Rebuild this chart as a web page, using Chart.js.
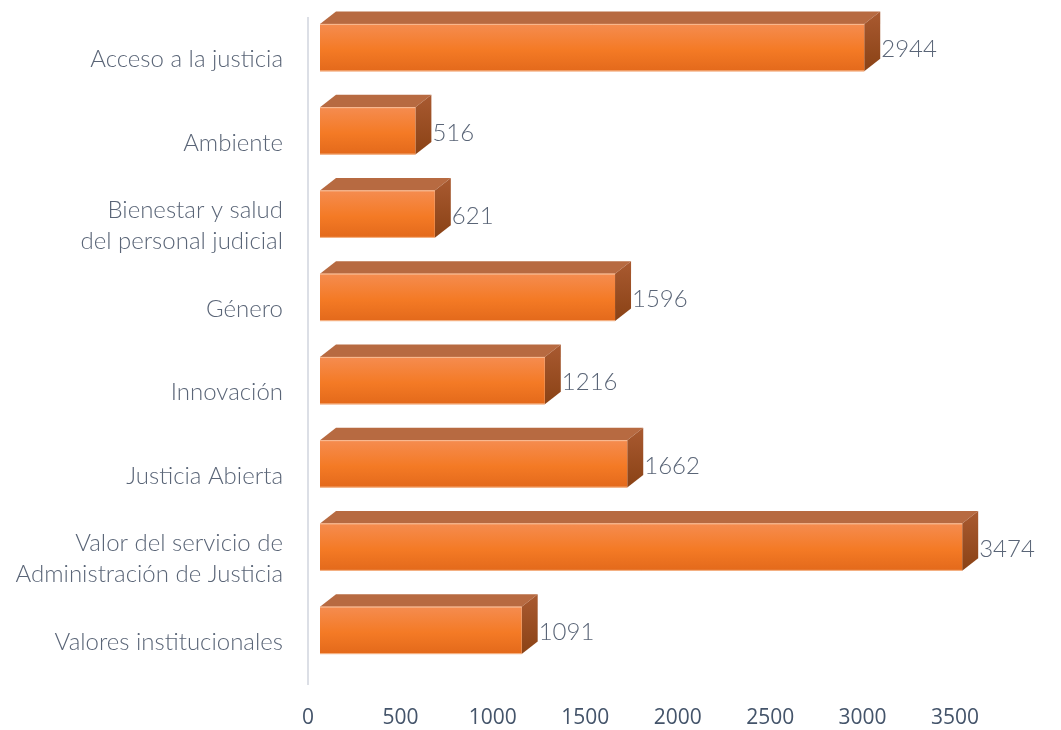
<!DOCTYPE html>
<html>
<head>
<meta charset="utf-8">
<script src="https://cdn.jsdelivr.net/npm/chart.js@4"></script>
<style>
  html, body { margin: 0; padding: 0; background: #fff; }
  #wrap { width: 1061px; height: 730px; }
</style>
</head>
<body>
<div id="wrap"><canvas id="graf"></canvas></div>
<script>
// datos del gráfico
const categorias = [
  "Acceso a la justicia",
  "Ambiente",
  ["Bienestar y salud", "del personal judicial"],
  "Género",
  "Innovación",
  "Justicia Abierta",
  ["Valor del servicio de", "Administración de Justicia"],
  "Valores institucionales"
];
const valores = [2944, 516, 621, 1596, 1216, 1662, 3474, 1091];
const ejeMin = 0;
const ejeMax = 3500;
const ejePaso = 500;

const fuente = "Lato, 'Open Sans', sans-serif";

// dibuja las barras con efecto 3D (cara frontal, superior y lateral)
const barras3d = {
  id: "barras3d",
  afterDatasetsDraw(chart) {
    const ctx = chart.ctx;
    const meta = chart.getDatasetMeta(0);
    const dx = 16, dy = 12.5;        // profundidad
    const sx = 12, sy = -12;         // desplazamiento de la cara frontal
    ctx.save();
    meta.data.forEach((bar, i) => {
      const p = bar.getProps(["x", "y", "base", "height"], true);
      const l = p.base + sx, r = p.x + sx;
      const t = p.y - p.height / 2 + sy, b = p.y + p.height / 2 + sy;

      // cara superior
      ctx.beginPath();
      ctx.moveTo(l, t);
      ctx.lineTo(l + dx, t - dy);
      ctx.lineTo(r + dx, t - dy);
      ctx.lineTo(r, t);
      ctx.closePath();
      ctx.fillStyle = "#b76a41";
      ctx.fill();

      // cara lateral
      const gl = ctx.createLinearGradient(0, t - dy, 0, b);
      gl.addColorStop(0, "#a95a31");
      gl.addColorStop(1, "#8a4215");
      ctx.beginPath();
      ctx.moveTo(r, t);
      ctx.lineTo(r + dx, t - dy);
      ctx.lineTo(r + dx, b - dy);
      ctx.lineTo(r, b);
      ctx.closePath();
      ctx.fillStyle = gl;
      ctx.fill();

      // cara frontal
      const gf = ctx.createLinearGradient(0, t, 0, b);
      gf.addColorStop(0, "#f58c50");
      gf.addColorStop(0.55, "#f47a25");
      gf.addColorStop(1, "#e3691b");
      ctx.fillStyle = gf;
      ctx.fillRect(l, t, r - l, b - t);
      ctx.strokeStyle = "rgba(250,200,165,0.8)";
      ctx.lineWidth = 1;
      ctx.beginPath();
      ctx.moveTo(l, t + 0.5); ctx.lineTo(r, t + 0.5);
      ctx.moveTo(l, b - 0.5); ctx.lineTo(r, b - 0.5);
      ctx.stroke();

      // etiqueta de valor
      ctx.fillStyle = "#5a6577";
      ctx.font = "300 24px " + fuente;
      ctx.textAlign = "left";
      ctx.textBaseline = "middle";
      ctx.fillText(String(valores[i]), r + dx + 1, (t + b) / 2 + 2);
    });
    ctx.restore();
  }
};

new Chart("graf", {
  type: "bar",
  data: {
    labels: categorias,
    datasets: [{
      data: valores,
      backgroundColor: "rgba(0,0,0,0)",   // las barras las pinta el plugin
      borderWidth: 0,
      barPercentage: 0.57,
      categoryPercentage: 1
    }]
  },
  options: {
    indexAxis: "y",
    responsive: true,
    maintainAspectRatio: false,
    animation: false,
    layout: { padding: { top: 18, right: 106, left: 0, bottom: 0 } },
    plugins: {
      legend: { display: false },
      tooltip: { enabled: false }
    },
    scales: {
      x: {
        min: ejeMin,
        max: ejeMax,
        ticks: {
          stepSize: ejePaso,
          color: "#44546a",
          font: { family: "'Open Sans', sans-serif", size: 21 },
          padding: 21,
          maxRotation: 0,
          callback: (v) => String(v)
        },
        grid: { display: false, drawTicks: false },
        border: { display: false },
        afterFit(scale) { scale.height = 46; }
      },
      y: {
        ticks: {
          color: "#5a6577",
          font: { family: fuente, size: 24, weight: 300, lineHeight: 1.3 },
          padding: 25
        },
        grid: { display: false, drawTicks: false },
        border: { display: true, color: "#dcdfe6", width: 2 },
        afterFit(scale) {
          scale.width = 308;
          scale.paddingTop = 0;
          scale.paddingBottom = 0;
        }
      }
    }
  },
  plugins: [barras3d]
});
</script>
</body>
</html>
